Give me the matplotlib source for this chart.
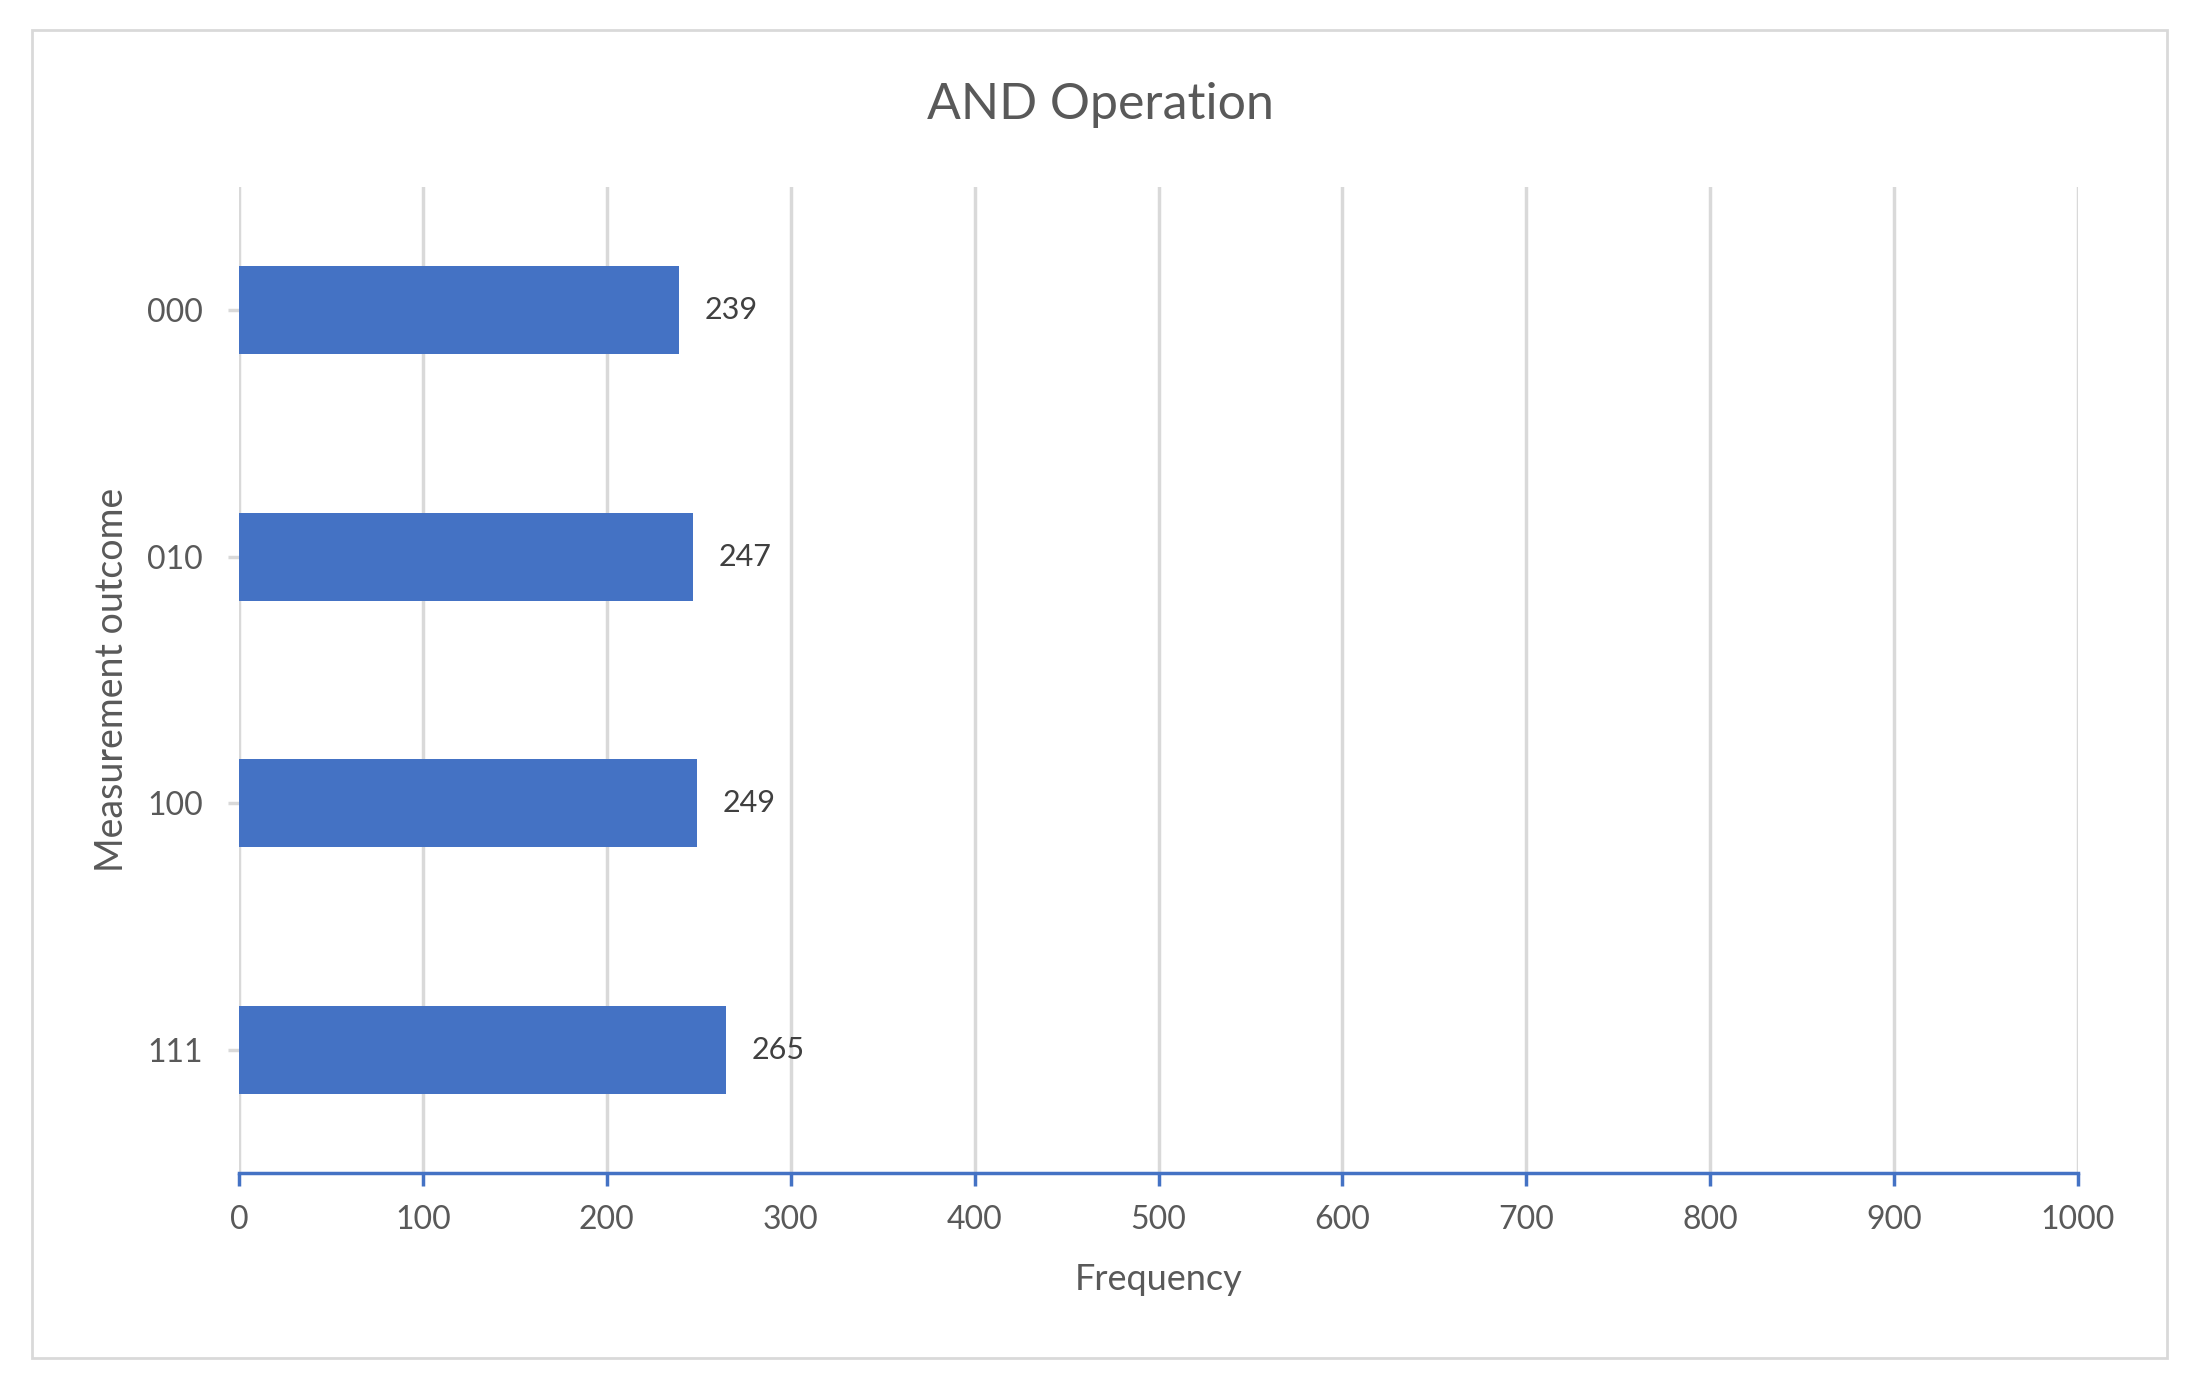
import numpy as np
import matplotlib.pyplot as plt
from matplotlib.patches import Rectangle

# data (top to bottom)
outcomes = ['000', '010', '100', '111']
counts = [239, 247, 249, 265]
x_ticks = list(range(0, 1001, 100))

plt.rcParams['font.family'] = ['Lato', 'DejaVu Sans']

fig = plt.figure(figsize=(21.95, 13.88), dpi=100)
ax = fig.add_axes([239/2195, 1 - 1173/1388, (2078-239)/2195, (1173-187)/1388])

# outer chart border
fig.patches.append(Rectangle((32/2195, 30/1388), (2167-32)/2195, (1358-30)/1388,
                             transform=fig.transFigure, fill=False,
                             edgecolor='#D9D9D9', linewidth=2))

pos = np.arange(len(outcomes))[::-1]
ax.barh(pos, counts, height=0.355, color='#4472C4', zorder=3)
for p, c in zip(pos, counts):
    ax.text(c + 14, p, str(c), va='center', ha='left', fontsize=22, color='#404040')

ax.set_xlim(0, 1000)
ax.set_ylim(-0.5, len(outcomes) - 0.5)
ax.set_xticks(x_ticks)
ax.set_yticks(pos)
ax.set_yticklabels(outcomes)
ax.grid(axis='x', color='#D9D9D9', linewidth=2.5, zorder=0)
ax.set_axisbelow(True)

for s in ['top', 'right', 'left']:
    ax.spines[s].set_visible(False)
ax.spines['bottom'].set_color('#4472C4')
ax.spines['bottom'].set_linewidth(2.5)
ax.tick_params(axis='x', colors='#4472C4', length=9, width=2.5, labelcolor='#595959',
               labelsize=23, pad=14)
ax.tick_params(axis='y', colors='#D9D9D9', length=8, width=2.5, labelcolor='#595959',
               labelsize=23, pad=18)

ax.set_xlabel('Frequency', fontsize=26, color='#595959', labelpad=20)
ax.set_ylabel('Measurement outcome', fontsize=27, color='#595959', labelpad=12)
fig.text(1100/2195, 1 - 105/1388, 'AND Operation', ha='center', va='center',
         fontsize=36, color='#595959')

fig.savefig('out.png', dpi=100)
